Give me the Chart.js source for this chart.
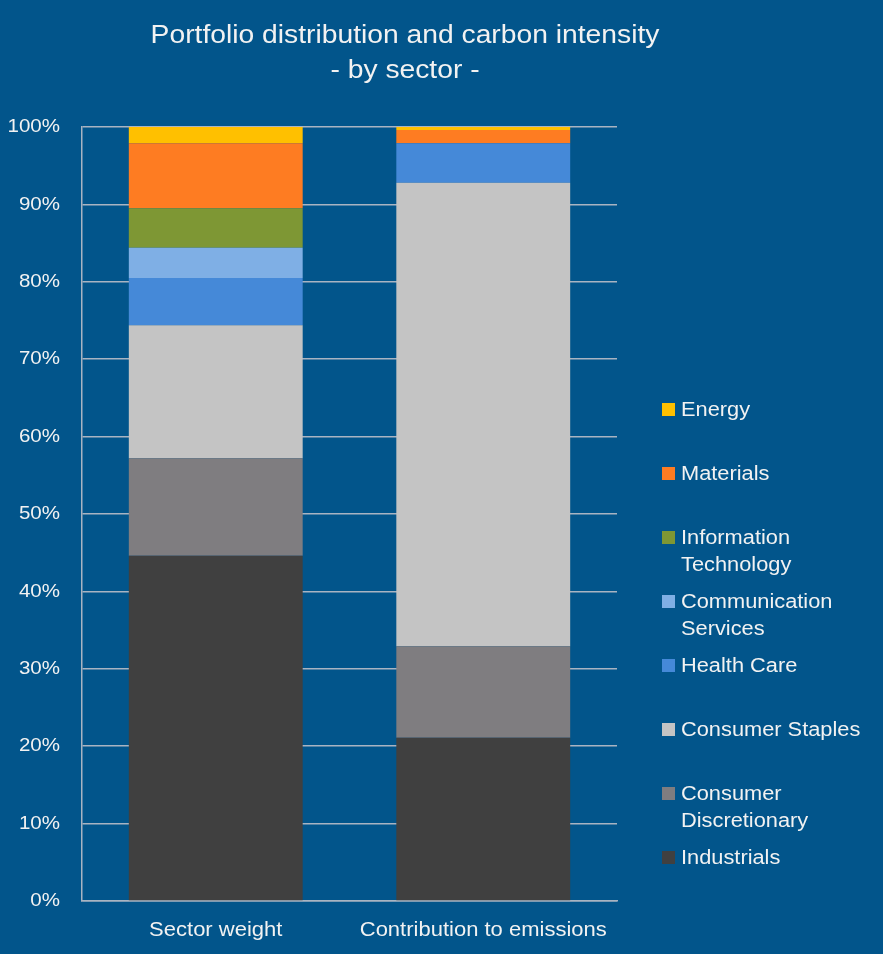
<!DOCTYPE html>
<html>
<head>
<meta charset="utf-8">
<script src="https://cdn.jsdelivr.net/npm/chart.js@4.4.1/dist/chart.umd.min.js"></script>
<style>
  html, body { margin: 0; padding: 0; background: #02558b; }
  #wrap { width: 883px; height: 954px; }
</style>
</head>
<body>
<div id="wrap"><canvas id="sector-chart" width="883" height="954"></canvas></div>
<script>
// Portfolio distribution vs contribution to emissions, per sector (percent)
var categories = ['Sector weight', 'Contribution to emissions'];
var sectors = ['Industrials', 'Consumer Discretionary', 'Consumer Staples', 'Health Care',
               'Communication Services', 'Information Technology', 'Materials', 'Energy'];
var sectorWeight = [44.6, 12.6, 17.2, 6.1, 3.9, 5.1, 8.4, 2.1];
var emissionsShare = [21.1, 11.8, 59.9, 5.1, 0, 0, 1.7, 0.4];
var sectorColors = ['#404040', '#7f7d80', '#c4c4c4', '#4589d8', '#7fafe5', '#7e9734', '#fe7c22', '#ffc000'];
var yTicks = [0, 10, 20, 30, 40, 50, 60, 70, 80, 90, 100];
var titleLines = ['Portfolio distribution and carbon intensity', '- by sector -'];

var BG = '#02558b';
var TEXT = '#f2f2f2';
var FONT = "'Liberation Sans', Arial, sans-serif";

var datasets = sectors.map(function (name, i) {
    return {
        label: name,
        data: [sectorWeight[i], emissionsShare[i]],
        backgroundColor: sectorColors[i],
        borderWidth: 0
    };
});

// the original text is a bit wide (stretched export), so draw it with a horizontal scale
function wideText(c, text, x, y, align, sx) {
    var w = c.measureText(text).width * sx;
    var left = align === 'center' ? x - w / 2 : (align === 'right' ? x - w : x);
    c.save();
    c.textAlign = 'left';
    c.translate(left, y);
    c.scale(sx, 1);
    c.fillText(text, 0, 0);
    c.restore();
}

// background, title, axis labels and right-hand legend drawn by hand
var decorPlugin = {
    id: 'decor',
    beforeDraw: function (chart) {
        var c = chart.ctx;
        c.save();
        c.fillStyle = BG;
        c.fillRect(0, 0, chart.width, chart.height);
        c.restore();
    },
    afterDraw: function (chart) {
        var c = chart.ctx;
        var xs = chart.scales.x, ys = chart.scales.y;
        c.save();
        c.fillStyle = TEXT;
        c.textBaseline = 'middle';

        c.font = '25px ' + FONT;
        titleLines.forEach(function (t, i) {
            wideText(c, t, 405, 36 + i * 35, 'center', 1.13);
        });

        // y tick labels
        c.font = '19px ' + FONT;
        yTicks.forEach(function (v) {
            wideText(c, v + '%', ys.left + ys.width - 22, ys.getPixelForValue(v), 'right', 1.08);
        });

        // category labels
        c.font = '20px ' + FONT;
        categories.forEach(function (lab, i) {
            wideText(c, lab, xs.getPixelForValue(i), 930, 'center', 1.1);
        });

        // legend, top item = last dataset
        c.font = '20px ' + FONT;
        var sx = 1.09;
        var maxW = 190 / sx;
        var y0 = 410, step = 64;
        var ds = chart.data.datasets.slice().reverse();
        ds.forEach(function (d, i) {
            var y = y0 + i * step;
            c.fillStyle = d.backgroundColor;
            c.fillRect(662, y - 7, 13, 13);
            var words = d.label.split(' ');
            var lines = [], cur = '';
            words.forEach(function (w) {
                var test = cur ? cur + ' ' + w : w;
                if (cur && c.measureText(test).width > maxW) {
                    lines.push(cur);
                    cur = w;
                } else {
                    cur = test;
                }
            });
            lines.push(cur);
            c.fillStyle = TEXT;
            lines.forEach(function (l, j) {
                wideText(c, l, 681, y + j * 27, 'left', sx);
            });
        });
        c.restore();
    }
};

var ctx = document.getElementById('sector-chart').getContext('2d');
var sectorChart = new Chart(ctx, {
    type: 'bar',
    data: { labels: categories, datasets: datasets },
    plugins: [decorPlugin],
    options: {
        responsive: false,
        animation: false,
        layout: { padding: { top: 127, right: 266, bottom: 0, left: 0 } },
        datasets: { bar: { categoryPercentage: 1.0, barPercentage: 0.65 } },
        plugins: {
            legend: { display: false },
            title: { display: false },
            tooltip: { enabled: false }
        },
        scales: {
            x: {
                stacked: true,
                grid: { display: false, drawTicks: false },
                border: { display: true, color: '#a9b4c2', width: 1.5 },
                ticks: { display: false },
                afterFit: function (scale) { scale.height = 53; }
            },
            y: {
                stacked: true,
                min: 0,
                max: 100,
                afterBuildTicks: function (scale) {
                    scale.ticks = yTicks.map(function (v) { return { value: v }; });
                },
                grid: { color: '#a9b4c2', lineWidth: 1.5, drawTicks: false },
                border: { display: true, color: '#a9b4c2', width: 1.5 },
                ticks: { display: false },
                afterFit: function (scale) { scale.width = 82; }
            }
        }
    }
});
</script>
</body>
</html>
